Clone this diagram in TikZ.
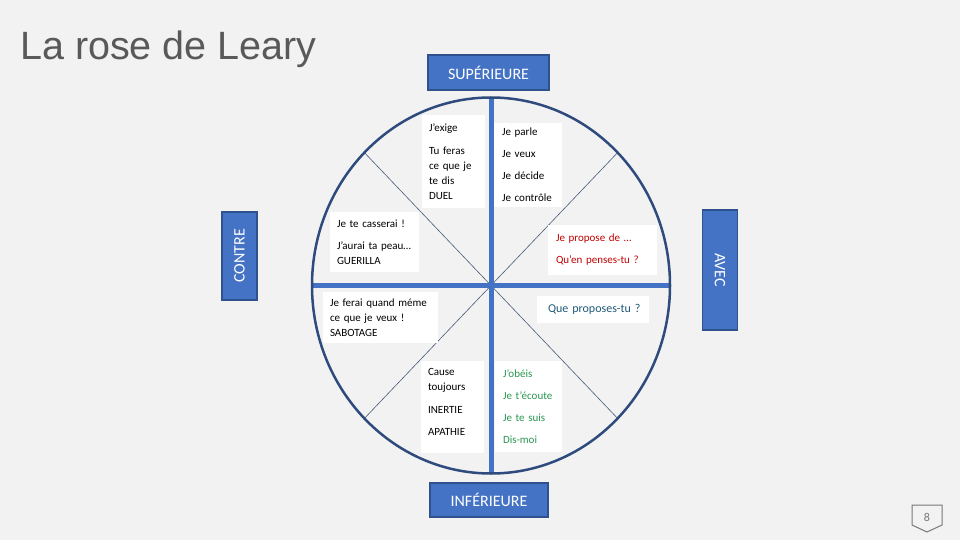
\documentclass[tikz,border=0pt]{standalone}
\usepackage{fontspec}
\setmainfont{Carlito}
\newfontfamily\titlefont{Liberation Sans}
\definecolor{officeblue}{RGB}{68,114,196}
\definecolor{boxrim}{RGB}{47,82,143}
\definecolor{wheelrim}{RGB}{47,75,125}
\definecolor{spokecol}{RGB}{70,90,120}
\definecolor{pagebg}{RGB}{242,242,242}
\definecolor{sayred}{RGB}{192,0,0}
\definecolor{sayteal}{RGB}{31,90,120}
\definecolor{saygreen}{RGB}{40,150,80}
\definecolor{titlegray}{RGB}{89,89,89}
\definecolor{badgegray}{RGB}{120,120,120}
\begin{document}
\begin{tikzpicture}[x=1pt, y=-1pt,
  tag/.style={draw=boxrim, fill=officeblue, text=white, line width=1.2pt, inner sep=0pt, font=\fontsize{16}{18}\selectfont},
  saybox/.style={fill=white, inner xsep=7pt, inner ysep=0pt, align=left, font=\fontsize{11}{15}\selectfont},
  bar/.style={officeblue, line width=5pt},
  spoke/.style={spokecol, line width=0.6pt}]
\useasboundingbox (0,0) rectangle (960,540);
\fill[pagebg] (0,0) rectangle (960,540);
\node[anchor=base west, inner sep=0pt, text=titlegray, font=\titlefont\fontsize{39.5}{44}\selectfont] (title) at (20,60) {La rose de Leary};
\coordinate (centre) at (491,285.5);
\draw[spoke] (centre) -- ++(-126.6,-132.9);
\draw[spoke] (centre) -- ++(126.6,-132.9);
\draw[spoke] (centre) -- ++(-126.6,132.9);
\draw[spoke] (centre) -- ++(126.6,132.9);
\node[saybox, minimum width=63, minimum height=93, text width=49] (duel) at (453.5,161.5) {J’exige\\[8pt]Tu feras\\ce que je\\te dis\\DUEL};
\node[saybox, minimum width=69, minimum height=83, text width=51, inner xsep=9pt] (decide) at (527.5,165) {Je parle\\[7pt]Je veux\\[7pt]Je décide\\[7pt]Je contrôle};
\node[saybox, minimum width=89, minimum height=60, text width=79, inner xsep=5pt] (guerilla) at (374.5,242) {\hspace*{2pt}Je te casserai !\\[7pt]\hspace*{2pt}J’aurai ta peau…\\\hspace*{2pt}GUERILLA};
\node[saybox, minimum width=115, minimum height=51, text width=101] (sabotage) at (380.5,317.5) {Je ferai quand méme\\ce que je veux !\\SABOTAGE};
\node[saybox, text=sayred, minimum width=109, minimum height=50, text width=93, inner xsep=8pt] (propose) at (602.5,250) {Je propose de …\\[7pt]Qu’en penses-tu ?};
\node[saybox, text=sayteal, minimum width=112, minimum height=27, text width=100, inner xsep=6pt, font=\fontsize{12}{15}\selectfont] (question) at (593,309.5) {\hspace*{5pt}Que proposes-tu ?};
\node[saybox, minimum width=63, minimum height=92, text width=49] (inertie) at (452.5,407) {Cause\\toujours\\[8pt]INERTIE\\[7pt]APATHIE\\[-5pt]\mbox{}};
\node[saybox, text=saygreen, minimum width=67, minimum height=91, text width=51, inner xsep=8pt] (obeis) at (528.5,406.5) {J’obéis\\[7pt]Je t’écoute\\[7pt]Je te suis\\[7pt]Dis-moi};
\draw[bar] (491,98) -- (491,473);
\draw[bar] (312,285.5) -- (670,285.5);
\draw[wheelrim, line width=2.5pt] (centre) ellipse [x radius=179pt, y radius=188pt];
\node[tag, minimum width=121, minimum height=35] (sup) at (488.5,72.5) {SUPÉRIEURE};
\node[tag, minimum width=118, minimum height=34] (inf) at (489,500) {INFÉRIEURE};
\node[tag, minimum width=88, minimum height=35, rotate=90] (contre) at (239.5,256) {CONTRE};
\node[tag, minimum width=120, minimum height=35, rotate=-90] (avec) at (720,270) {AVEC};
\draw[badgegray, line width=1pt] (912,505) -- (942,505) -- (942,525) -- (927,532) -- (912,525) -- cycle;
\node[text=badgegray, font=\fontsize{12}{14}\selectfont] (pagenum) at (927,517) {8};
\end{tikzpicture}
\end{document}
